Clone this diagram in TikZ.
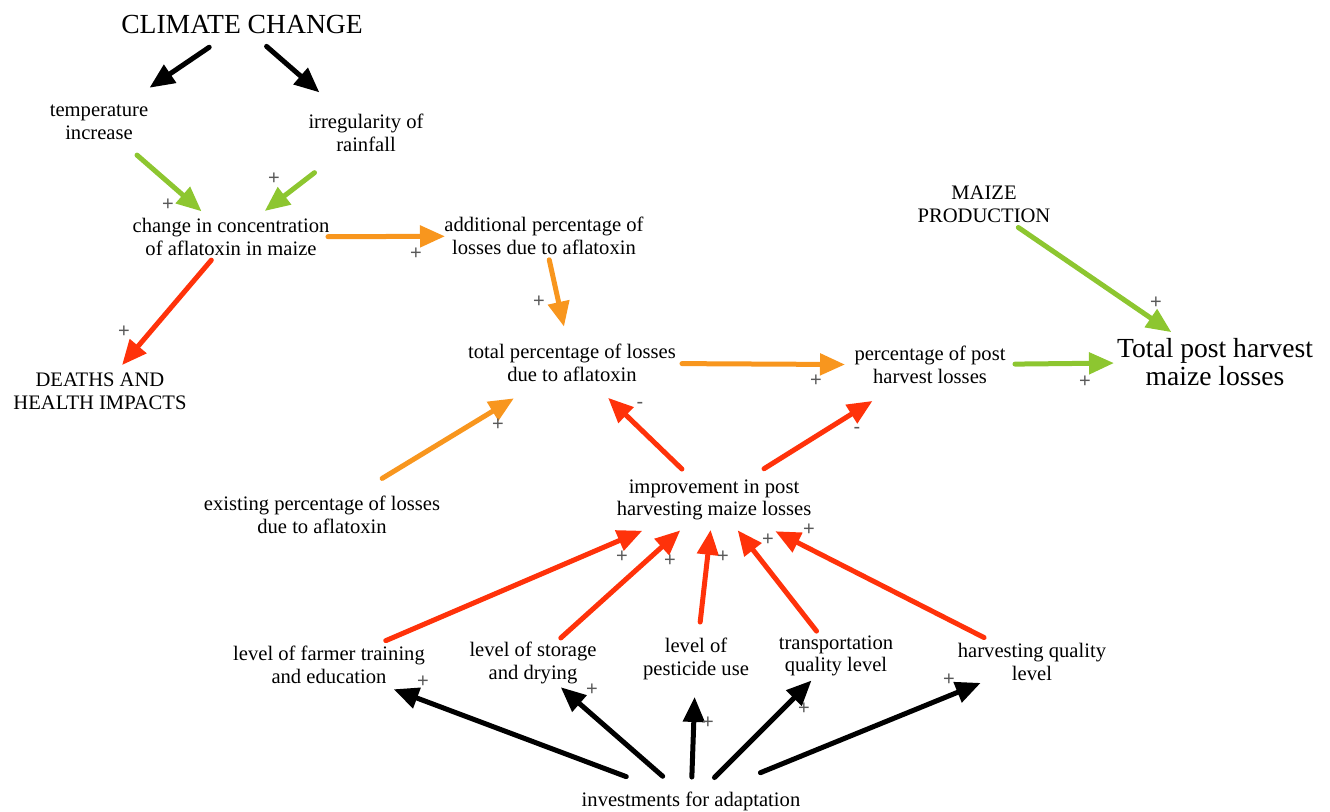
\documentclass[tikz,border=0pt]{standalone}
\usepackage{fontspec}
\setmainfont{Liberation Serif}
\newfontfamily\signfont{Liberation Sans}
\usetikzlibrary{arrows.meta,positioning}

\definecolor{linkgreen}{RGB}{141,198,48}
\definecolor{linkorange}{RGB}{248,150,30}
\definecolor{linkred}{RGB}{255,50,10}

\begin{document}
\begin{tikzpicture}[
    x=0.5pt, y=-0.5pt,
    var/.style={align=center, font=\fontsize{10.3}{11.4}\selectfont, inner xsep=2pt, inner ysep=5pt},
    bigvar/.style={align=center, font=\fontsize{13.8}{13.8}\selectfont, inner xsep=2pt, inner ysep=4pt},
    pol/.style={font=\signfont\fontsize{10}{10}\selectfont, text=black!65, inner sep=0pt},
    link/.style={line width=2.5pt, line cap=round, -{Triangle[length=12.5pt,width=10.5pt]}},
    ends/.style 2 args={shorten <=#1, shorten >=#2}
]
\useasboundingbox (0,0) rectangle (1330,812);

% Climate drivers
\node[bigvar] (cc) at (242,25) {CLIMATE CHANGE};
\node[var] (temp) at (99,122) {temperature\\increase};
\node[var] (rain) at (366,133) {irregularity of\\rainfall};
\node[var] (conc) at (231,237) {change in concentration\\of aflatoxin in maize};
\node[var] (deaths) at (100,391) {DEATHS AND\\HEALTH IMPACTS};

% Aflatoxin losses
\node[var] (addl) at (544,236) {additional percentage of\\losses due to aflatoxin};
\node[var] (total) at (572,363) {total percentage of losses\\due to aflatoxin};
\node[var] (exist) at (322,515) {existing percentage of losses\\due to aflatoxin};

% Post harvest losses
\node[var] (maize) at (984,204) {MAIZE\\PRODUCTION};
\node[var] (pct) at (930,365) {percentage of post\\harvest losses};
\node[bigvar] (tpl) at (1215,362) {Total post harvest\\maize losses};

% Adaptation
\node[var] (impr) at (714,500) {improvement in post\\harvesting maize losses};
\node[var] (farmer) at (329,665) {level of farmer training\\and education};
\node[var] (storage) at (533,663) {level of storage\\and drying};
\node[var] (pest) at (696,659) {level of\\pesticide use};
\node[var] (transp) at (836,656) {transportation\\quality level};
\node[var] (harvq) at (1032,662) {harvesting quality\\level};
\node[var] (invest) at (691,801) {investments for adaptation};

% Links (center to center, trimmed to the text)
\draw[link, ends={19.8pt}{30.5pt}] (cc.center) -- (temp.center);
\draw[link, ends={16.3pt}{30.9pt}] (cc.center) -- (rain.center);
\draw[link, linkgreen, ends={25.2pt}{19.5pt}] (temp.center) -- (conc.center);
\draw[link, linkgreen, ends={32.5pt}{21.3pt}] (rain.center) -- (conc.center);
\draw[link, linkorange, ends={48.5pt}{49.5pt}] (conc.center) -- (addl.center);
\draw[link, linkred, ends={15.2pt}{17pt}] (conc.center) -- (deaths.center);
\draw[link, linkorange, ends={12.2pt}{18.6pt}] (addl.center) -- (total.center);
\draw[link, linkorange, ends={35.2pt}{34pt}] (exist.center) -- (total.center);
\draw[link, linkorange, ends={55pt}{42.5pt}] (total.center) -- (pct.center);
\draw[link, linkgreen, ends={42.5pt}{50.5pt}] (pct.center) -- (tpl.center);
\draw[link, linkgreen, ends={20.8pt}{26.4pt}] (maize.center) -- (tpl.center);
\draw[link, linkred, ends={22.3pt}{25.1pt}] (impr.center) -- (total.center);
\draw[link, linkred, ends={29.5pt}{33.9pt}] (impr.center) -- (pct.center);
\draw[link, linkred, ends={30.9pt}{39pt}] (farmer.center) -- (impr.center);
\draw[link, linkred, ends={18.7pt}{22.7pt}] (storage.center) -- (impr.center);
\draw[link, linkred, ends={18.6pt}{15pt}] (pest.center) -- (impr.center);
\draw[link, linkred, ends={15.8pt}{19.2pt}] (transp.center) -- (impr.center);
\draw[link, linkred, ends={26.9pt}{34.4pt}] (harvq.center) -- (impr.center);
\draw[link, ends={34.6pt}{34.5pt}] (invest.center) -- (farmer.center);
\draw[link, ends={18.8pt}{18.4pt}] (invest.center) -- (storage.center);
\draw[link, ends={12pt}{19pt}] (invest.center) -- (pest.center);
\draw[link, ends={16.6pt}{17.3pt}] (invest.center) -- (transp.center);
\draw[link, ends={37.5pt}{27.7pt}] (invest.center) -- (harvq.center);

% Polarities
\node[pol] (s1) at (168,205) {+};
\node[pol] (s2) at (274,179) {+};
\node[pol] (s3) at (416,254) {+};
\node[pol] (s4) at (124,332) {+};
\node[pol] (s5) at (539,302) {+};
\node[pol] (s6) at (498,425) {+};
\node[pol] (s7) at (640,405) {-};
\node[pol] (s8) at (857,430) {-};
\node[pol] (s9) at (816,381) {+};
\node[pol] (s10) at (1156,303) {+};
\node[pol] (s11) at (1085,382) {+};
\node[pol] (s12) at (622,557) {+};
\node[pol] (s13) at (670,561) {+};
\node[pol] (s14) at (723,557) {+};
\node[pol] (s15) at (768,540) {+};
\node[pol] (s16) at (809,530) {+};
\node[pol] (s17) at (423,682) {+};
\node[pol] (s18) at (592,690) {+};
\node[pol] (s19) at (708,723) {+};
\node[pol] (s20) at (804,709) {+};
\node[pol] (s21) at (949,680) {+};

\end{tikzpicture}
\end{document}
